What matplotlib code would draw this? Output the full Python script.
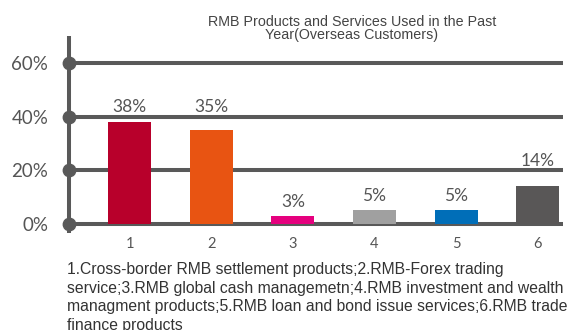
import matplotlib.pyplot as plt

# Share of overseas customers using each RMB product/service (%)
CATEGORIES = ["1", "2", "3", "4", "5", "6"]
SHARES = [38, 35, 3, 5, 5, 14]
BAR_COLOURS = ["#B8002B", "#E85412", "#E5007E", "#A0A0A0", "#006EB8", "#595757"]
Y_TICKS = [0, 20, 40, 60]
Y_TICK_LABELS = ["0%", "20%", "40%", "60%"]

TITLE = "RMB Products and Services Used in the Past\nYear(Overseas Customers)"
FOOTNOTE = (
    "1.Cross-border RMB settlement products;2.RMB-Forex trading\n"
    "service;3.RMB global cash managemetn;4.RMB investment and wealth\n"
    "managment products;5.RMB loan and bond issue services;6.RMB trade\n"
    "finance products"
)

AXIS_GREY = "#595959"
TEXT_GREY = "#555555"

fig = plt.figure(figsize=(5.76, 3.30), dpi=100)
fig.patch.set_facecolor("white")
ax = fig.add_axes([69 / 576, 97 / 330, 494 / 576, 197 / 330])

x = list(range(len(CATEGORIES)))
x_min, x_max = -0.744, 5.31
ax.set_xlim(x_min, x_max)
ax.set_ylim(-3.4, 70)

# horizontal grid lines and the vertical axis with its round markers
ax.hlines(Y_TICKS, x_min, x_max, color=AXIS_GREY, linewidth=2.9, zorder=1)
ax.plot([x_min, x_min], [-3.4, 70], color=AXIS_GREY, linewidth=2.9,
        clip_on=False, zorder=1, solid_capstyle="butt")
ax.scatter([x_min] * len(Y_TICKS), Y_TICKS, s=80, color=AXIS_GREY,
           clip_on=False, zorder=2)

ax.bar(x, SHARES, width=0.527, color=BAR_COLOURS, zorder=3)

# value labels sit above the bar, nudged clear of any grid line they would cross
for xi, v in zip(x, SHARES):
    y_lab = v + 5.2
    for g in Y_TICKS:
        if abs(y_lab - g) < 3.5:
            y_lab = g + 3.5
    ax.text(xi, y_lab, f"{v}%", ha="center", va="center", fontsize=12.5,
            color=TEXT_GREY, family="Lato", zorder=4)

for spine in ax.spines.values():
    spine.set_visible(False)

ax.set_yticks(Y_TICKS)
ax.set_yticklabels(Y_TICK_LABELS, fontsize=13.5, color=TEXT_GREY, family="Lato")
ax.set_xticks(x)
ax.set_xticklabels(CATEGORIES, fontsize=10.5, color=TEXT_GREY, family="Lato")
ax.tick_params(axis="y", length=0, pad=15)
ax.tick_params(axis="x", length=0, pad=3)

fig.text(352 / 576, 1 - 15 / 330, TITLE, ha="center", va="top",
         fontsize=10.3, color="#444444", family="Liberation Sans",
         linespacing=0.9)

fig.text(67 / 576, 1 - 262 / 330, FOOTNOTE, ha="left", va="top",
         fontsize=11.3, color="#333333", family="Liberation Sans",
         linespacing=1.3)

fig.savefig("out.png", dpi=100)
